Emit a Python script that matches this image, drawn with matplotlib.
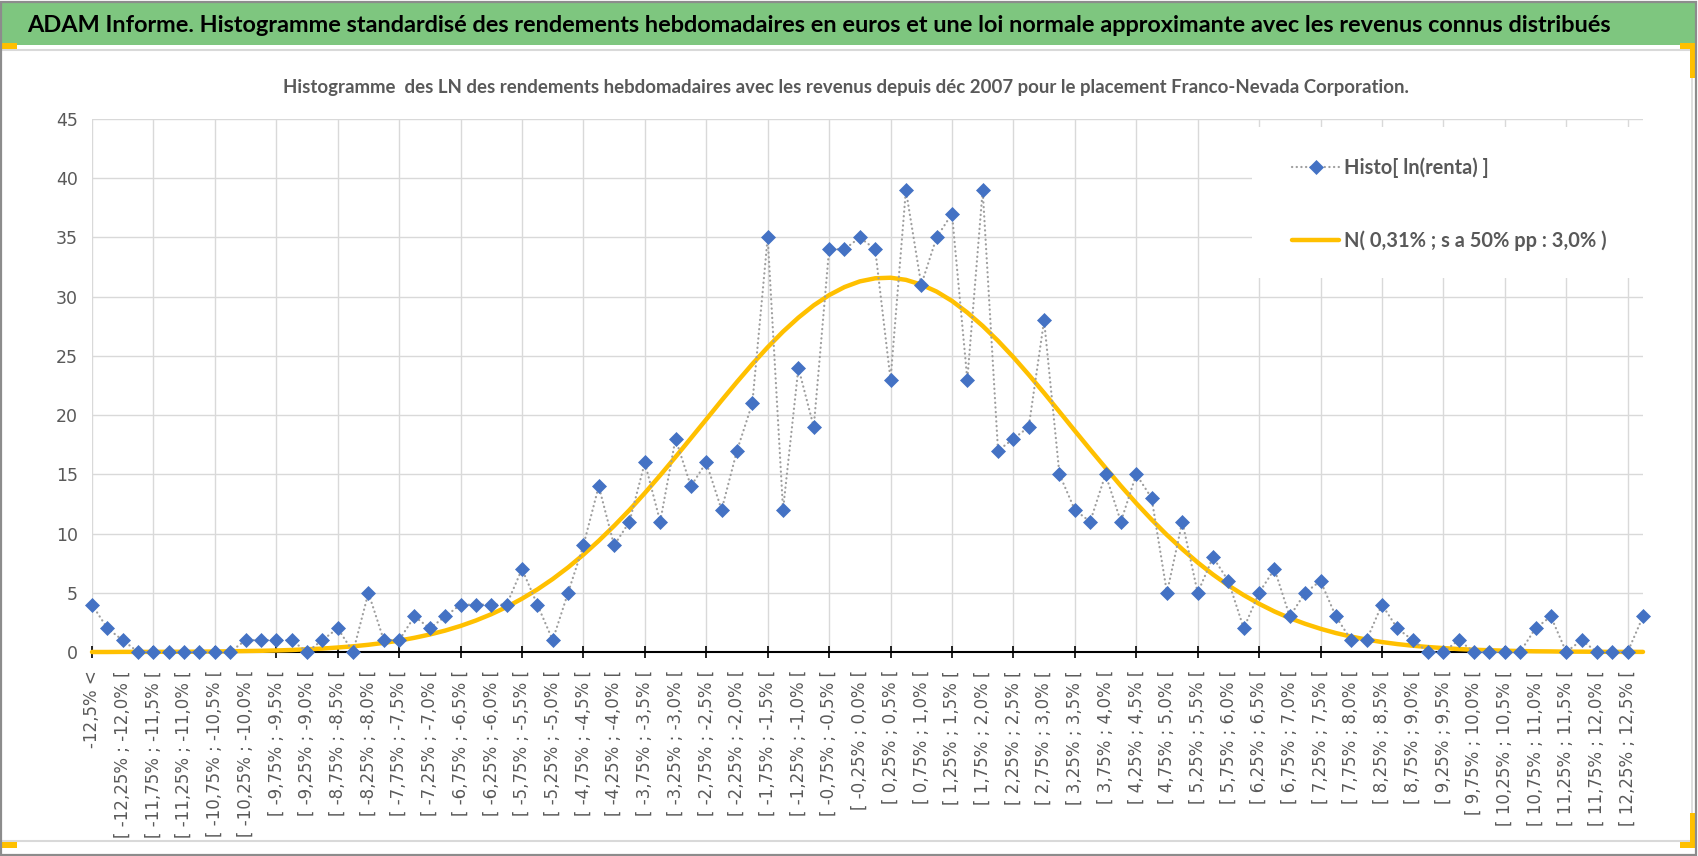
import numpy as np
import matplotlib
matplotlib.use("Agg")
import matplotlib.pyplot as plt
from matplotlib import font_manager
from matplotlib.patches import Rectangle
from matplotlib.lines import Line2D
from matplotlib.ticker import FixedLocator

# ---------------- data ----------------
histo_counts = [4, 2, 1, 0, 0, 0, 0, 0, 0, 0,
                1, 1, 1, 1, 0, 1, 2, 0, 5, 1,
                1, 3, 2, 3, 4, 4, 4, 4, 7, 4,
                1, 5, 9, 14, 9, 11, 16, 11, 18, 14,
                16, 12, 17, 21, 35, 12, 24, 19, 34, 34,
                35, 34, 23, 39, 31, 35, 37, 23, 39, 17,
                18, 19, 28, 15, 12, 11, 15, 11, 15, 13,
                5, 11, 5, 8, 6, 2, 5, 7, 3, 5,
                6, 3, 1, 1, 4, 2, 1, 0, 0, 1,
                0, 0, 0, 0, 2, 3, 0, 1, 0, 0,
                0, 3]

normal_curve = [0.00, 0.00, 0.01, 0.01, 0.01, 0.02, 0.02, 0.03, 0.04, 0.06,
                0.08, 0.10, 0.13, 0.17, 0.23, 0.29, 0.38, 0.48, 0.61, 0.77,
                0.96, 1.20, 1.48, 1.81, 2.20, 2.66, 3.19, 3.80, 4.50, 5.28,
                6.16, 7.14, 8.22, 9.39, 10.65, 11.99, 13.42, 14.92, 16.47, 18.05,
                19.64, 21.24, 22.80, 24.31, 25.73, 27.05, 28.23, 29.27, 30.13, 30.81,
                31.29, 31.55, 31.60, 31.42, 31.02, 30.43, 29.64, 28.66, 27.53, 26.27,
                24.89, 23.41, 21.87, 20.28, 18.68, 17.10, 15.55, 14.02, 12.56, 11.18,
                9.88, 8.68, 7.56, 6.54, 5.62, 4.80, 4.07, 3.42, 2.86, 2.38,
                1.96, 1.60, 1.30, 1.05, 0.84, 0.67, 0.53, 0.42, 0.33, 0.25,
                0.19, 0.15, 0.11, 0.08, 0.06, 0.05, 0.03, 0.03, 0.02, 0.01,
                0.01, 0.01]

# labels shown on every other category (positions 0, 2, 4, ... 100)
tick_labels = ["-12,5% <",
               "[ -12,25% ; -12,0% [", "[ -11,75% ; -11,5% [", "[ -11,25% ; -11,0% [",
               "[ -10,75% ; -10,5% [", "[ -10,25% ; -10,0% [", "[ -9,75% ; -9,5% [",
               "[ -9,25% ; -9,0% [", "[ -8,75% ; -8,5% [", "[ -8,25% ; -8,0% [",
               "[ -7,75% ; -7,5% [", "[ -7,25% ; -7,0% [", "[ -6,75% ; -6,5% [",
               "[ -6,25% ; -6,0% [", "[ -5,75% ; -5,5% [", "[ -5,25% ; -5,0% [",
               "[ -4,75% ; -4,5% [", "[ -4,25% ; -4,0% [", "[ -3,75% ; -3,5% [",
               "[ -3,25% ; -3,0% [", "[ -2,75% ; -2,5% [", "[ -2,25% ; -2,0% [",
               "[ -1,75% ; -1,5% [", "[ -1,25% ; -1,0% [", "[ -0,75% ; -0,5% [",
               "[ -0,25% ; 0,0% [", "[ 0,25% ; 0,5% [", "[ 0,75% ; 1,0% [",
               "[ 1,25% ; 1,5% [", "[ 1,75% ; 2,0% [", "[ 2,25% ; 2,5% [",
               "[ 2,75% ; 3,0% [", "[ 3,25% ; 3,5% [", "[ 3,75% ; 4,0% [",
               "[ 4,25% ; 4,5% [", "[ 4,75% ; 5,0% [", "[ 5,25% ; 5,5% [",
               "[ 5,75% ; 6,0% [", "[ 6,25% ; 6,5% [", "[ 6,75% ; 7,0% [",
               "[ 7,25% ; 7,5% [", "[ 7,75% ; 8,0% [", "[ 8,25% ; 8,5% [",
               "[ 8,75% ; 9,0% [", "[ 9,25% ; 9,5% [", "[ 9,75% ; 10,0% [",
               "[ 10,25% ; 10,5% [", "[ 10,75% ; 11,0% [", "[ 11,25% ; 11,5% [",
               "[ 11,75% ; 12,0% [", "[ 12,25% ; 12,5% ["]

y_ticks = [0, 5, 10, 15, 20, 25, 30, 35, 40, 45]

series_names = ["Histo[ ln(renta) ]", "N( 0,31% ; s a 50% pp : 3,0% )"]
main_title = ("ADAM Informe. Histogramme standardisé des rendements hebdomadaires en euros "
              "et une loi normale approximante avec les revenus connus distribués")
sub_title = ("Histogramme  des LN des rendements hebdomadaires avec les revenus depuis déc 2007 "
             "pour le placement Franco-Nevada Corporation.")

# ---------------- styling ----------------
W, H, DPI = 1698, 856, 100
BLUE = "#4472C4"
GOLD = "#FFC000"
GRID = "#D9D9D9"
TXT = "#595959"
GREEN = "#7EC67F"

avail = {f.name for f in font_manager.fontManager.ttflist}


def pick(cands):
    for c in cands:
        if c in avail:
            return c
    return "DejaVu Sans"


NARROW = pick(["Liberation Sans Narrow", "Lato", "Open Sans", "Liberation Sans"])

fig = plt.figure(figsize=(W / DPI, H / DPI), dpi=DPI)
fig.patch.set_facecolor("white")


def fx(px):
    return px / W


def fy(py):
    return 1 - py / H


def measure(text, size, family, weight="bold"):
    t = fig.text(0, 0, text, fontsize=size, family=family, weight=weight)
    r = fig.canvas.get_renderer()
    w = t.get_window_extent(r).width
    t.remove()
    return w


def fit_size(text, target_w, family, weight="bold", base=20.0):
    return base * target_w / measure(text, base, family, weight)


# ---------- frame decorations ----------
fig.add_artist(Rectangle((0, fy(45)), fx(1695), 42 / H, transform=fig.transFigure,
                         facecolor=GREEN, edgecolor="none", zorder=0))
fig.add_artist(Line2D([0, fx(1692)], [fy(50), fy(50)], transform=fig.transFigure,
                      color=GRID, lw=1.5, zorder=0))
fig.add_artist(Line2D([fx(1692), fx(1692)], [fy(50), fy(841)], transform=fig.transFigure,
                      color=GRID, lw=1.2, zorder=0))
fig.add_artist(Line2D([0, fx(1692)], [fy(841), fy(841)], transform=fig.transFigure,
                      color=GRID, lw=1.5, zorder=0))
for (x0, y0, w, h) in [(0, 43, 17, 6), (1680, 43, 16, 6), (1690, 43, 6, 35),
                       (0, 842, 17, 6), (1680, 842, 16, 6), (1690, 813, 6, 35)]:
    fig.add_artist(Rectangle((fx(x0), fy(y0 + h)), w / W, h / H, transform=fig.transFigure,
                             facecolor=GOLD, edgecolor="none", zorder=1))
fig.add_artist(Rectangle((0.0006, 0.001), 0.9985, 0.997, transform=fig.transFigure,
                         facecolor="none", edgecolor="#8C8C8C", lw=1.6, zorder=5))

# ---------- titles ----------
ts = fit_size(main_title, 1586, NARROW)
fig.text(fx(27), fy(25), main_title, ha="left", va="center", fontsize=ts,
         family=NARROW, weight="bold", color="black")
ss = fit_size(sub_title, 1124, NARROW)
fig.text(fx(846), fy(87), sub_title, ha="center", va="center", fontsize=ss,
         family=NARROW, weight="bold", color=TXT)

# ---------- axes ----------
ax = fig.add_axes([fx(92), fy(652), (1643 - 92) / W, (652 - 119) / H])
ax.set_facecolor("none")
ax.set_axisbelow(True)
x = np.arange(len(histo_counts))

ax.plot(x, normal_curve, color=GOLD, lw=3.2, zorder=3, clip_on=False,
        solid_capstyle="round", label=series_names[1])
ax.plot(x, histo_counts, color="#9E9E9E", lw=1.6, linestyle=(0, (0.1, 2.0)),
        dash_capstyle="round", marker="D", ms=6.8, mfc=BLUE, mec=BLUE, mew=0.5,
        zorder=4, clip_on=False, label=series_names[0])

ax.set_xlim(0, len(histo_counts) - 1)
ax.set_ylim(0, 45)

for s in ["top", "right", "left"]:
    ax.spines[s].set_visible(False)
ax.spines["bottom"].set_color("black")
ax.spines["bottom"].set_linewidth(1.5)
ax.spines["bottom"].set_zorder(2.5)

ax.set_yticks(y_ticks)
ax.set_yticklabels([str(v) for v in y_ticks])
ax.tick_params(axis="y", length=0, pad=10, labelsize=12.5, labelcolor=TXT)

ax.xaxis.remove_overlapping_locs = False
ax.xaxis.set_major_locator(FixedLocator(np.arange(0, len(histo_counts), 4)))
ax.set_xticks(np.arange(0, 2 * len(tick_labels), 2), tick_labels, minor=True)
ax.tick_params(axis="x", which="major", length=8, width=1.2, direction="inout",
               color="black", labelbottom=False)
ax.tick_params(axis="x", which="minor", length=0, pad=13, labelsize=12,
               labelcolor=TXT)
for lab in ax.get_xticklabels(minor=True):
    lab.set_rotation(90)
    lab.set_va("top")
    lab.set_ha("center")

ax.grid(True, axis="y", color=GRID, lw=1.0)
ax.grid(True, axis="x", which="major", color=GRID, lw=1.0)

# legend cover (white area behind legend)
ax.add_patch(Rectangle((fx(1252), fy(278)), (1660 - 1252) / W, (278 - 127) / H,
                       transform=fig.transFigure, facecolor="white", edgecolor="none",
                       zorder=1))

lfs = fit_size(series_names[1], 263, NARROW)
fpx = lfs * DPI / 72
handles, labels = ax.get_legend_handles_labels()
order = [1, 0]
leg = fig.legend([handles[i] for i in order], [labels[i] for i in order],
                 loc="center left", bbox_to_anchor=(fx(1292), fy(204)),
                 bbox_transform=fig.transFigure, frameon=False, borderpad=0,
                 borderaxespad=0, handlelength=47 / fpx, handletextpad=5 / fpx,
                 labelspacing=max(0.2, (78 - 1.25 * fpx) / fpx),
                 prop=dict(family=NARROW, weight="bold", size=lfs), labelcolor=TXT)

fig.savefig("out.png", dpi=DPI, facecolor="white")
